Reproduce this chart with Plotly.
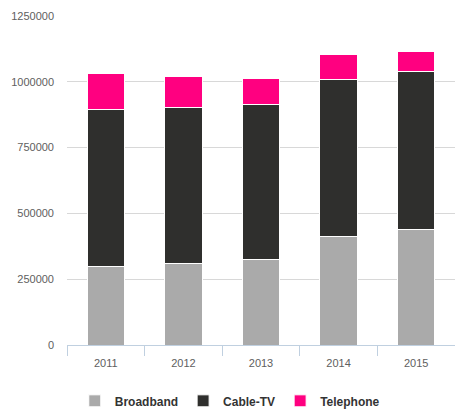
import plotly.graph_objects as go

years = ["2011", "2012", "2013", "2014", "2015"]
broadband = [300000, 310000, 323000, 411000, 437000]
cable_tv = [596000, 594000, 589000, 596000, 601000]
telephone = [136000, 118000, 101000, 98000, 79000]

series = [
    ("Broadband", broadband, "#aaaaaa"),
    ("Cable-TV", cable_tv, "#2f2f2d"),
    ("Telephone", telephone, "#ff0080"),
]

fig = go.Figure()
for name, vals, color in series:
    fig.add_trace(go.Bar(
        x=years, y=vals, name=name,
        marker=dict(color=color, line=dict(color="#ffffff", width=1)),
    ))

fig.update_layout(
    barmode="stack",
    bargap=0.52,
    width=455, height=409,
    margin=dict(l=67, r=0, t=16, b=64),
    plot_bgcolor="#ffffff",
    paper_bgcolor="#ffffff",
    font=dict(family="Liberation Sans, Arial, sans-serif", size=11, color="#606060"),
    showlegend=True,
    legend=dict(
        orientation="h",
        xref="container", yref="container",
        x=0.505, xanchor="center",
        y=0.02, yanchor="middle",
        font=dict(size=12, color="#333333", weight="bold",
                  family="Liberation Sans, Arial, sans-serif"),
        itemwidth=30,
        traceorder="normal",
    ),
    xaxis=dict(
        showline=True, linecolor="#c0d0e0", linewidth=1,
        ticks="outside", tickson="boundaries", ticklen=10, tickcolor="#c0d0e0",
        showgrid=False,
        ticklabelstandoff=8,
        tickfont=dict(size=11, color="#606060"),
    ),
    yaxis=dict(
        range=[0, 1250000],
        tickvals=[0, 250000, 500000, 750000, 1000000, 1250000],
        ticktext=["0", "250000", "500000", "750000", "1000000", "1250000"],
        showgrid=True, gridcolor="#d8d8d8", gridwidth=1,
        zeroline=False, showline=False,
        ticklabelstandoff=12,
        tickfont=dict(size=11, color="#606060"),
    ),
)

fig.write_html("out.html")
